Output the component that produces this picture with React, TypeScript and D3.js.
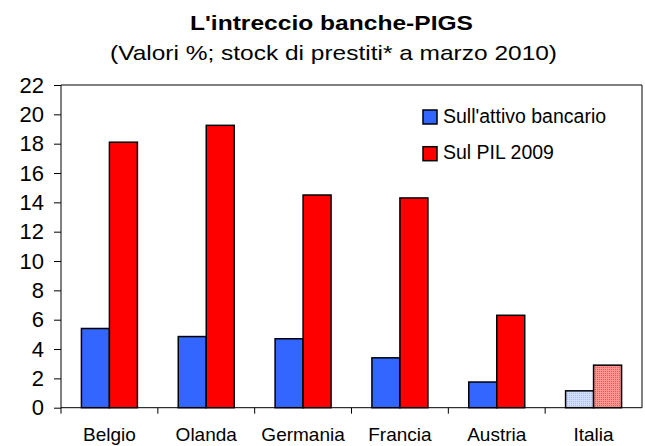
import { useEffect, useRef } from 'react';
import * as d3 from 'd3';

const categories = ['Belgio', 'Olanda', 'Germania', 'Francia', 'Austria', 'Italia'];
const seriesNames = ["Sull'attivo bancario", 'Sul PIL 2009'];
const attivoValues = [5.4, 4.85, 4.7, 3.4, 1.75, 1.15];
const pilValues = [18.1, 19.25, 14.5, 14.3, 6.3, 2.9];
const yTicks = [0, 2, 4, 6, 8, 10, 12, 14, 16, 18, 20, 22];
const colors = ['#3366ff', '#ff0000'];
const patterns = ['url(#hatchBlue)', 'url(#hatchRed)'];

const App = () => {
  const svgRef = useRef<SVGSVGElement>(null);

  useEffect(() => {
    const svg = d3.select(svgRef.current);
    svg.selectAll('*').remove();

    const width = 645;
    const height = 446;
    const margin = { top: 85, right: 3, bottom: 38.3, left: 61 };
    const plotW = width - margin.left - margin.right;
    const plotH = height - margin.top - margin.bottom;
    const font = "'Liberation Sans', Arial, sans-serif";

    // hatched fills for the Italia bars
    const defs = svg.append('defs');
    const mkPattern = (id: string, bg: string, fg: string) => {
      const p = defs.append('pattern')
        .attr('id', id)
        .attr('width', 2)
        .attr('height', 2)
        .attr('patternUnits', 'userSpaceOnUse');
      p.append('rect').attr('width', 2).attr('height', 2).attr('fill', bg);
      p.append('rect').attr('width', 1).attr('height', 1).attr('fill', fg);
    };
    mkPattern('hatchBlue', '#d3ddff', '#a6baff');
    mkPattern('hatchRed', '#ff9494', '#ff5050');

    svg.append('text')
      .attr('x', 331.5)
      .attr('y', 30)
      .attr('text-anchor', 'middle')
      .attr('textLength', 283)
      .attr('lengthAdjust', 'spacingAndGlyphs')
      .style('font-family', font)
      .style('font-weight', 'bold')
      .style('font-size', '20px')
      .text("L'intreccio banche-PIGS");

    svg.append('text')
      .attr('x', 333.5)
      .attr('y', 60)
      .attr('text-anchor', 'middle')
      .attr('textLength', 447)
      .attr('lengthAdjust', 'spacingAndGlyphs')
      .style('font-family', font)
      .style('font-size', '21px')
      .text('(Valori %; stock di prestiti* a marzo 2010)');

    const g = svg.append('g')
      .attr('transform', `translate(${margin.left},${margin.top})`);

    const x0 = d3.scaleBand()
      .domain(categories)
      .range([0, plotW])
      .padding(0);

    const x1 = d3.scaleBand()
      .domain(seriesNames)
      .range([0, x0.bandwidth()])
      .paddingInner(0)
      .paddingOuter(0.73);

    const y = d3.scaleLinear()
      .domain([0, 22])
      .range([plotH, 0]);

    // plot frame (top and right)
    g.append('path')
      .attr('d', `M0,0H${plotW}V${plotH}`)
      .attr('fill', 'none')
      .attr('stroke', '#000')
      .attr('stroke-width', 1);

    // bars
    const rows = categories.map((c, i) => ({ c, vals: [attivoValues[i], pilValues[i]] }));
    rows.forEach((row, ci) => {
      row.vals.forEach((v, si) => {
        g.append('rect')
          .attr('x', (x0(row.c) ?? 0) + (x1(seriesNames[si]) ?? 0))
          .attr('y', y(v))
          .attr('width', x1.bandwidth())
          .attr('height', plotH - y(v))
          .attr('fill', ci === categories.length - 1 ? patterns[si] : colors[si])
          .attr('stroke', '#000')
          .attr('stroke-width', 1.5);
      });
    });

    // y axis
    const yAxis = g.append('g')
      .call(d3.axisLeft(y).tickValues(yTicks).tickSize(7).tickPadding(10).tickFormat(d3.format('d')));
    yAxis.select('.domain').remove();
    yAxis.selectAll('.tick line').attr('stroke', '#000');
    yAxis.selectAll('.tick text')
      .style('font-family', font)
      .style('font-size', '22px')
      .attr('fill', '#000');
    g.append('line')
      .attr('x1', 0).attr('x2', 0)
      .attr('y1', 0).attr('y2', plotH + 6)
      .attr('stroke', '#000');

    // x axis
    g.append('line')
      .attr('x1', 0).attr('x2', plotW)
      .attr('y1', plotH).attr('y2', plotH)
      .attr('stroke', '#000');
    categories.slice(1).forEach(c => {
      g.append('line')
        .attr('x1', x0(c) ?? 0).attr('x2', x0(c) ?? 0)
        .attr('y1', plotH).attr('y2', plotH + 6)
        .attr('stroke', '#000');
    });
    g.selectAll('.cat')
      .data(categories)
      .enter()
      .append('text')
      .attr('class', 'cat')
      .attr('x', d => (x0(d) ?? 0) + x0.bandwidth() / 2)
      .attr('y', plotH + 33.5)
      .attr('text-anchor', 'middle')
      .style('font-family', font)
      .style('font-size', '19px')
      .text(d => d);

    // legend
    const legend = svg.append('g');
    seriesNames.forEach((s, i) => {
      const ly = 110 + i * 36.7;
      legend.append('rect')
        .attr('x', 423)
        .attr('y', ly)
        .attr('width', 14)
        .attr('height', 14)
        .attr('fill', colors[i])
        .attr('stroke', '#000')
        .attr('stroke-width', 1.5);
      legend.append('text')
        .attr('x', 443)
        .attr('y', ly + 12.5)
        .style('font-family', font)
        .style('font-size', '19.5px')
        .text(s);
    });
  }, []);

  return (
    <div style={{ position: 'absolute', left: 0, top: 0 }}>
      <svg ref={svgRef} width={645} height={446} style={{ display: 'block', background: '#fff' }}></svg>
    </div>
  );
};

export default App;
